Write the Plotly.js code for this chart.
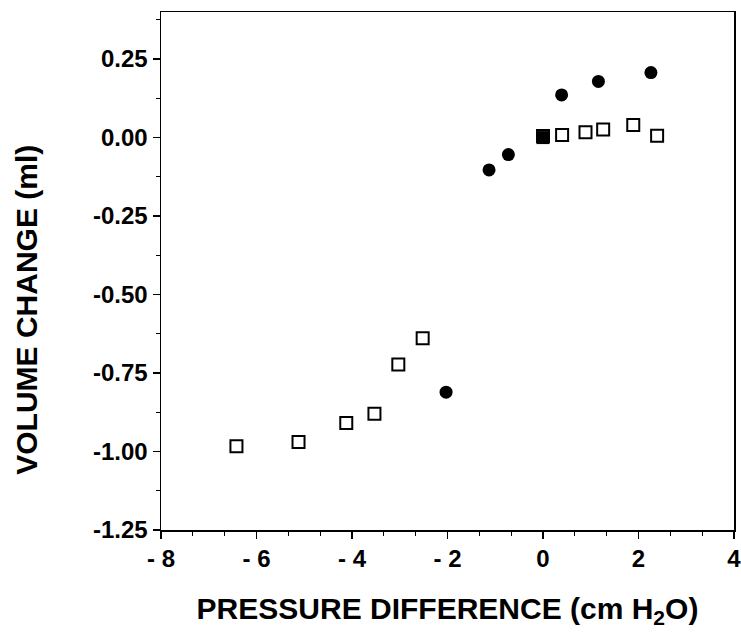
<!DOCTYPE html>
<html>
<head>
<meta charset="utf-8">
<script src="https://cdn.plot.ly/plotly-3.0.1.min.js"></script>
<style>body{margin:0;padding:0;background:#fff;}</style>
</head>
<body>
<div id="chart" style="width:741px;height:641px;"></div>
<script>
// Open squares
const squareX = [-6.42, -5.12, -4.12, -3.53, -3.03, -2.52, 0.00, 0.40, 0.89, 1.26, 1.89, 2.39];
const squareY = [-0.983, -0.970, -0.909, -0.880, -0.723, -0.639, 0.005, 0.008, 0.017, 0.026, 0.040, 0.006];
// Filled circles (point at origin drawn as filled square)
const circleX = [-2.03, -1.13, -0.725, 0.00, 0.39, 1.16, 2.26];
const circleY = [-0.811, -0.103, -0.054, 0.000, 0.136, 0.179, 0.207];
const circleSymbols = ['circle', 'circle', 'circle', 'square', 'circle', 'circle', 'circle'];

const xTickVals = [-8, -6, -4, -2, 0, 2, 4];
const xTickText = ['-\u00A08', '-\u00A06', '-\u00A04', '-\u00A02', '0', '2', '4'];
const yTickVals = [0.25, 0, -0.25, -0.5, -0.75, -1.0, -1.25];
const yTickText = ['0.25', '0.00', '-0.25', '-0.50', '-0.75', '-1.00', '-1.25'];

const FONT = 'Liberation Sans, Arial, Helvetica, sans-serif';

const traces = [
  {
    x: squareX, y: squareY, type: 'scatter', mode: 'markers',
    marker: {symbol: 'square-open', size: 12, color: '#000', line: {color: '#000', width: 2}},
    hoverinfo: 'x+y'
  },
  {
    x: circleX, y: circleY, type: 'scatter', mode: 'markers',
    marker: {symbol: circleSymbols, size: 13, color: '#000', line: {width: 0}},
    hoverinfo: 'x+y'
  }
];

const layout = {
  width: 741, height: 641,
  margin: {l: 161, r: 7, t: 12, b: 111},
  paper_bgcolor: '#fff', plot_bgcolor: '#fff',
  showlegend: false,
  font: {family: FONT, color: '#000', size: 24, weight: 700},
  xaxis: {
    range: [-8, 4],
    showline: true, mirror: true, linecolor: '#000', linewidth: 1.5,
    showgrid: false, zeroline: false,
    ticks: 'outside', ticklen: 7, tickwidth: 1.5, tickcolor: '#000',
    tickvals: xTickVals, ticktext: xTickText,
    ticklabeloverflow: 'allow',
    tickfont: {family: FONT, size: 24, weight: 700, color: '#000'},
    minor: {tick0: -8, dtick: 2/3, ticks: 'outside', ticklen: 4, tickwidth: 1.2, tickcolor: '#000', showgrid: false},
    title: {text: 'PRESSURE DIFFERENCE (cm H<sub>2</sub>O)', standoff: 26,
            font: {family: FONT, size: 30, weight: 700, color: '#000'}}
  },
  yaxis: {
    range: [-1.25, 0.40],
    showline: true, mirror: true, linecolor: '#000', linewidth: 1.5,
    showgrid: false, zeroline: false,
    ticks: 'outside', ticklen: 7, tickwidth: 1.5, tickcolor: '#000',
    tickvals: yTickVals, ticktext: yTickText,
    ticklabeloverflow: 'allow',
    tickfont: {family: FONT, size: 24, weight: 700, color: '#000'},
    minor: {tick0: 0, dtick: 0.125, ticks: 'outside', ticklen: 4, tickwidth: 1.2, tickcolor: '#000', showgrid: false}
  },
  annotations: [
    {
      text: 'VOLUME CHANGE (ml)', textangle: -90,
      xref: 'paper', yref: 'paper', x: -0.234, y: 0.425,
      xanchor: 'center', yanchor: 'middle', showarrow: false,
      font: {family: FONT, size: 30, weight: 700, color: '#000'}
    }
  ]
};

Plotly.newPlot('chart', traces, layout, {displayModeBar: false, staticPlot: true});
</script>
</body>
</html>
